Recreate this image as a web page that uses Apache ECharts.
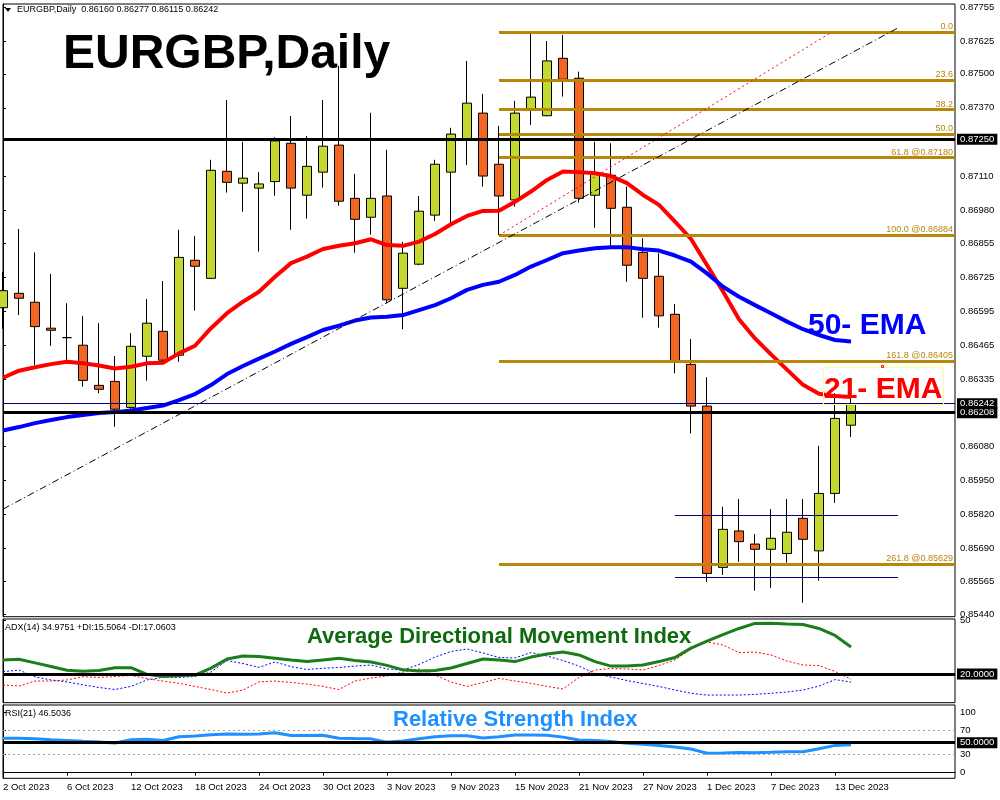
<!DOCTYPE html>
<html><head><meta charset="utf-8">
<script src="https://cdn.jsdelivr.net/npm/echarts@6/dist/echarts.min.js"></script>
<style>html,body{margin:0;padding:0;background:#fff}#c{width:1000px;height:800px}</style>
</head><body><div id="c"></div>
<script>
const dates = ['2 Oct 2023','3 Oct 2023','4 Oct 2023','5 Oct 2023','6 Oct 2023','9 Oct 2023','10 Oct 2023','11 Oct 2023','12 Oct 2023','13 Oct 2023','16 Oct 2023','17 Oct 2023','18 Oct 2023','19 Oct 2023','20 Oct 2023','23 Oct 2023','24 Oct 2023','25 Oct 2023','26 Oct 2023','27 Oct 2023','30 Oct 2023','31 Oct 2023',
'1 Nov 2023','2 Nov 2023','3 Nov 2023','6 Nov 2023','7 Nov 2023','8 Nov 2023','9 Nov 2023','10 Nov 2023','13 Nov 2023','14 Nov 2023','15 Nov 2023','16 Nov 2023','17 Nov 2023','20 Nov 2023','21 Nov 2023','22 Nov 2023','23 Nov 2023','24 Nov 2023','27 Nov 2023','28 Nov 2023','29 Nov 2023','30 Nov 2023',
'1 Dec 2023','4 Dec 2023','5 Dec 2023','6 Dec 2023','7 Dec 2023','8 Dec 2023','11 Dec 2023','12 Dec 2023','13 Dec 2023','14 Dec 2023'];
const dateTicks = [0,4,8,12,16,20,24,28,32,36,40,44,48,52];

const opens  = [0.86608,0.86663,0.86629,0.86530,0.86494,0.86465,0.86312,0.86327,0.86228,0.86423,0.86518,0.86427,0.86789,0.86720,0.87128,0.87083,0.87064,0.87089,0.87235,0.87037,0.87125,0.87228,0.87025,0.86953,0.87034,0.86682,0.86774,0.86961,0.87125,0.87250,0.87350,0.87155,0.87019,0.87365,0.87340,0.87559,0.87483,0.87037,0.87113,0.86991,0.86819,0.86728,0.86583,0.86392,0.86233,0.85618,0.85757,0.85707,0.85687,0.85671,0.85805,0.85681,0.85900,0.86160];
const highs  = [0.86745,0.86908,0.86819,0.86737,0.86625,0.86577,0.86549,0.86424,0.86511,0.86641,0.86710,0.86905,0.86882,0.87172,0.87400,0.87241,0.87125,0.87258,0.87339,0.87263,0.87400,0.87530,0.87118,0.87351,0.87210,0.86859,0.87034,0.87172,0.87294,0.87549,0.87423,0.87301,0.87397,0.87652,0.87625,0.87648,0.87508,0.87241,0.87235,0.87070,0.86873,0.86816,0.86622,0.86489,0.86343,0.85849,0.85879,0.85745,0.85840,0.85879,0.85879,0.86081,0.86282,0.86277];
const lows   = [0.86527,0.86580,0.86390,0.86463,0.86409,0.86307,0.86282,0.86154,0.86220,0.86330,0.86401,0.86402,0.86597,0.86718,0.87047,0.86974,0.86822,0.87035,0.86905,0.86948,0.87066,0.86997,0.86818,0.86887,0.86625,0.86526,0.86770,0.86939,0.86927,0.87152,0.87070,0.86885,0.86993,0.87305,0.87338,0.87413,0.87009,0.86913,0.86841,0.86707,0.86570,0.86532,0.86358,0.86129,0.85563,0.85589,0.85639,0.85529,0.85540,0.85636,0.85483,0.85567,0.85864,0.86115];
const closes = [0.86673,0.86644,0.86536,0.86522,0.86494,0.86331,0.86297,0.86221,0.86461,0.86549,0.86408,0.86800,0.86766,0.87132,0.87086,0.87102,0.87080,0.87244,0.87064,0.87147,0.87224,0.87014,0.86945,0.87025,0.86638,0.86816,0.86976,0.87155,0.87270,0.87388,0.87110,0.87034,0.87350,0.87411,0.87549,0.87479,0.87025,0.87117,0.86987,0.86770,0.86720,0.86577,0.86405,0.86233,0.85595,0.85763,0.85716,0.85687,0.85729,0.85752,0.85725,0.85900,0.86186,0.86242];

const ema21 = [0.86341,0.86368,0.86381,0.86393,0.86402,0.86396,0.86388,0.86376,0.86383,0.86396,0.86398,0.86434,0.86463,0.86530,0.86587,0.86631,0.86669,0.86726,0.86778,0.86803,0.86832,0.86844,0.86854,0.86869,0.86847,0.86844,0.86860,0.86889,0.86926,0.86958,0.86977,0.86978,0.87012,0.87051,0.87095,0.87127,0.87125,0.87121,0.87110,0.87083,0.87038,0.87000,0.86936,0.86870,0.86771,0.86670,0.86564,0.86491,0.86430,0.86372,0.86314,0.86280,0.86271,0.86268];
const ema50 = [0.86140,0.86153,0.86168,0.86180,0.86191,0.86199,0.86207,0.86210,0.86216,0.86226,0.86235,0.86256,0.86279,0.86313,0.86355,0.86386,0.86414,0.86441,0.86470,0.86496,0.86523,0.86540,0.86559,0.86571,0.86574,0.86580,0.86599,0.86618,0.86644,0.86676,0.86695,0.86707,0.86733,0.86765,0.86790,0.86816,0.86826,0.86835,0.86839,0.86839,0.86831,0.86826,0.86807,0.86784,0.86739,0.86688,0.86650,0.86618,0.86587,0.86555,0.86526,0.86504,0.86485,0.86479];

const adx     = [27.8,28.2,26.2,24.2,22.1,21.6,21.9,23.5,23.5,19.8,18.6,19.2,19.4,23.3,28.3,30.0,29.7,28.8,27.8,26.9,27.8,28.7,27.5,26.7,24.8,22.3,21.7,21.9,23.3,25.8,28.3,27.8,26.9,29.4,31.1,32.2,30.6,26.9,24.4,24.4,25.0,26.9,29.2,34.4,38.3,41.9,45.3,48.1,48.2,47.8,47.5,45.3,41.4,35.0];
const plusDI  = [21.3,22.2,18.4,16.7,15.6,14.0,12.5,11.4,13.1,16.7,18.2,18.1,18.6,21.1,27.5,25.8,23.7,26.7,24.1,22.5,23.2,23.6,24.4,25.0,22.8,22.2,25.3,29.4,32.5,33.9,31.7,29.2,28.9,31.9,30.0,27.5,24.4,20.3,18.3,16.4,14.7,13.1,11.1,9.3,8.3,8.3,8.3,8.7,9.3,10.0,11.1,13.3,16.9,15.5];
const minusDI = [13.9,13.3,16.1,16.1,16.7,18.5,18.1,18.6,19.2,17.5,16.1,14.8,13.1,11.4,9.4,11.1,15.6,16.1,15.3,14.4,13.1,11.4,16.1,17.8,18.9,21.1,22.8,19.4,15.6,13.1,15.3,17.6,16.1,14.8,13.1,11.7,18.1,22.2,23.1,22.8,22.2,24.7,27.8,33.9,37.8,36.1,31.9,32.2,30.6,27.2,25.0,24.7,21.4,17.1];
const rsi     = [57.3,57.3,56.5,55.0,53.8,52.3,51.0,49.5,54.8,55.7,53.8,60.0,61.0,63.3,64.4,64.1,64.4,66.5,62.0,62.0,62.4,57.5,56.9,56.4,51.0,52.8,56.4,59.8,61.7,61.5,58.0,60.0,62.8,62.8,62.5,59.3,54.4,53.7,52.0,49.2,47.4,45.5,43.0,39.5,32.5,33.0,33.8,33.3,34.0,35.0,35.0,40.0,45.5,46.5];

const priceTicks  = [0.87755,0.87625,0.87500,0.87370,0.87250,0.87110,0.86980,0.86855,0.86725,0.86595,0.86465,0.86335,0.86080,0.85950,0.85820,0.85690,0.85565,0.85440];
const priceLabels = [0.87755,0.87625,0.87500,0.87370,0.87110,0.86980,0.86855,0.86725,0.86595,0.86465,0.86335,0.86080,0.85950,0.85820,0.85690,0.85565,0.85440];
const levelLines = [0.87250, 0.86208];
const bidPrice = 0.86242;
const fibNames  = ['0.0','23.6','38.2','50.0','61.8 @0.87180','100.0 @0.86884','161.8 @0.86405','261.8 @0.85629'];
const fibPrices = [0.87659,0.87476,0.87363,0.87271,0.87180,0.86884,0.86405,0.85629];
const fibStartIdx = 31;
const trendBlack = [[0,0.85840],[55.94,0.87675]];
const trendRed   = [[31,0.86884],[51.8,0.87659]];
const rangeLines = [0.85817, 0.85581];
const rangeSpan  = [42, 55.94];
const adxLevel = 20, rsiLevel = 50, rsiBand = [70, 30];
const adxTicks = [50], rsiTicks = [100, 70, 30, 0];

const X_MAX = 59.5;
const FONT = 'Liberation Sans, Arial, sans-serif';
const boxLabel = (txt) => ({show:true, position:'end', formatter:txt, color:'#fff', backgroundColor:'#000',
  padding:[1,3,0,3], fontSize:9.5, distance:2, fontFamily:FONT});

const chart = echarts.init(document.getElementById('c'), null, {renderer:'canvas'});
const xBase = (gi, showLabels) => ({
  type:'value', gridIndex:gi, min:0, max:X_MAX,
  splitLine:{show:false},
  axisLine:{show:showLabels, lineStyle:{color:'#000'}},
  axisTick:showLabels ? {show:true, customValues:dateTicks, length:3, lineStyle:{color:'#000'}} : {show:false},
  axisLabel:showLabels ? {show:true, customValues:dateTicks, formatter:v => dates[Math.round(v)] || '',
     align:'left', fontSize:9.5, color:'#000', margin:4, fontFamily:FONT} : {show:false}
});
const yRight = (gi, min, max, ticks, labels, fmt) => ({
  type:'value', gridIndex:gi, position:'right', min, max, scale:true,
  splitLine:{show:false},
  axisLine:{show:true, lineStyle:{color:'#000'}},
  axisTick:{show:true, customValues:ticks, length:3, lineStyle:{color:'#000'}},
  axisLabel:{show:true, customValues:labels, formatter:fmt, fontSize:9.5, color:'#000', margin:5, fontFamily:FONT}
});

const fibMarks = fibPrices.map((p,k) => [
  {coord:[fibStartIdx, p], label:{show:true, position:'insideEndTop', formatter:fibNames[k], color:'#B8860B', fontSize:9, distance:[2,1], fontFamily:FONT}},
  {coord:[X_MAX, p]}
]);
const hMark = (p, color, width, txt) => [
  {coord:[0, p], lineStyle:{color, width, type:'solid'}, label:boxLabel(txt)},
  {coord:[X_MAX, p]}
];

const option = {
  animation:false,
  backgroundColor:'#fff',
  textStyle:{fontFamily:FONT},
  grid:[
    {left:3, right:45, top:4, height:612.7, show:true, borderColor:'#000', borderWidth:1, backgroundColor:'transparent'},
    {left:3, right:45, top:619, height:83.7, show:true, borderColor:'#000', borderWidth:1},
    {left:3, right:45, top:705, height:73.3, show:true, borderColor:'#000', borderWidth:1}
  ],
  xAxis:[xBase(0,false), xBase(1,false), xBase(2,true)],
  yAxis:[
    yRight(0, 0.85430, 0.87766, priceTicks, priceLabels, v => v.toFixed(5)),
    yRight(1, 4.06, 50.56, adxTicks, adxTicks, v => String(v)),
    yRight(2, -9.3, 112.8, rsiTicks, rsiTicks, v => String(v))
  ],
  series:[
    {type:'line', xAxisIndex:0, yAxisIndex:0, data:[], silent:true, z:1,
     markLine:{silent:true, symbol:['none','none'], animation:false, data:[
       ...fibMarks,
       [{coord:trendBlack[0], lineStyle:{color:'#000', width:1, type:[7,3,1,3]}}, {coord:trendBlack[1]}],
       [{coord:trendRed[0], lineStyle:{color:'#FF0000', width:1, type:[2,3]}}, {coord:trendRed[1]}],
       ...rangeLines.map(p => [{coord:[rangeSpan[0], p], lineStyle:{color:'#000080', width:1, type:'solid'}}, {coord:[rangeSpan[1], p]}])
     ], lineStyle:{color:'#B8860B', width:3, type:'solid'}, label:{show:false}}
    },
    {type:'line', xAxisIndex:0, yAxisIndex:0, data:[], silent:true, z:2,
     markLine:{silent:true, symbol:['none','none'], animation:false, data:[
       hMark(levelLines[0], '#000', 3, levelLines[0].toFixed(5)),
       hMark(levelLines[1], '#000', 3, levelLines[1].toFixed(5)),
       hMark(bidPrice, '#000080', 1, bidPrice.toFixed(5))
     ]}
    },
    {type:'candlestick', xAxisIndex:0, yAxisIndex:0, z:3, barWidth:9, clip:true,
     data: opens.map((o,i) => [i, o, closes[i], lows[i], highs[i]]),
     itemStyle:{color:'#C3D932', color0:'#F26522', borderColor:'#000', borderColor0:'#000', borderColorDoji:'#000', borderWidth:1}
    },
    {type:'line', name:'EMA21', xAxisIndex:0, yAxisIndex:0, z:4, symbol:'none',
     data: ema21.map((v,i) => [i,v]), lineStyle:{color:'#FF0000', width:4}},
    {type:'line', name:'EMA50', xAxisIndex:0, yAxisIndex:0, z:4, symbol:'none',
     data: ema50.map((v,i) => [i,v]), lineStyle:{color:'#0000FF', width:4}},
    {type:'line', xAxisIndex:1, yAxisIndex:1, symbol:'none', z:2,
     data: plusDI.map((v,i)=>[i,v]), lineStyle:{color:'#0000FF', width:1, type:[2,2]}},
    {type:'line', xAxisIndex:1, yAxisIndex:1, symbol:'none', z:2,
     data: minusDI.map((v,i)=>[i,v]), lineStyle:{color:'#FF0000', width:1, type:[2,2]}},
    {type:'line', xAxisIndex:1, yAxisIndex:1, symbol:'none', z:3,
     data: adx.map((v,i)=>[i,v]), lineStyle:{color:'#1A7F1A', width:3},
     markLine:{silent:true, symbol:['none','none'], animation:false, data:[
       {yAxis:adxLevel, lineStyle:{color:'#000', width:3, type:'solid'}, label:boxLabel('20.0000')}
     ]}
    },
    {type:'line', xAxisIndex:2, yAxisIndex:2, symbol:'none', z:3,
     data: rsi.map((v,i)=>[i,v]), lineStyle:{color:'#1E90FF', width:3},
     markLine:{silent:true, symbol:['none','none'], animation:false, data:[
       {yAxis:rsiBand[0], lineStyle:{color:'#A0A0A0', width:1, type:[2,3]}, label:{show:false}},
       {yAxis:rsiBand[1], lineStyle:{color:'#A0A0A0', width:1, type:[2,3]}, label:{show:false}},
       {yAxis:rsiLevel, lineStyle:{color:'#000', width:3, type:'solid'}, label:boxLabel('50.0000')}
     ]}
    }
  ],
  graphic:[
    {type:'polygon', shape:{points:[[5,8],[11,8],[8,12]]}, style:{fill:'#000'}, z:100},
    {type:'text', x:17, y:10, z:100, style:{text:'EURGBP,Daily  0.86160 0.86277 0.86115 0.86242', font:'9px '+FONT, fill:'#000', verticalAlign:'middle'}},
    {type:'text', x:63, y:55, z:100, style:{text:'EURGBP,Daily', font:'bold 48px '+FONT, fill:'#000', verticalAlign:'middle'}},
    {type:'text', x:808, y:326, z:100, style:{text:'50- EMA', font:'bold 30px '+FONT, fill:'#0000FF', verticalAlign:'middle'}},
    {type:'rect', shape:{x:823.5, y:367.5, width:120, height:37}, style:{fill:'none', stroke:'#FFFF99', lineWidth:1}, z:100},
    {type:'rect', shape:{x:881.5, y:365.5, width:2, height:2}, style:{fill:'none', stroke:'#FF0000', lineWidth:1}, z:100},
    {type:'text', x:824, y:390, z:100, style:{text:'21- EMA', font:'bold 30px '+FONT, fill:'#FF0000', verticalAlign:'middle'}},
    {type:'text', x:5, y:628, z:100, style:{text:'ADX(14) 34.9751 +DI:15.5064 -DI:17.0603', font:'9px '+FONT, fill:'#000', verticalAlign:'middle'}},
    {type:'text', x:307, y:637, z:100, style:{text:'Average Directional Movement Index', font:'bold 22px '+FONT, fill:'#0E6A0E', verticalAlign:'middle'}},
    {type:'text', x:5, y:714, z:100, style:{text:'RSI(21) 46.5036', font:'9px '+FONT, fill:'#000', verticalAlign:'middle'}},
    {type:'text', x:393, y:720, z:100, style:{text:'Relative Strength Index', font:'bold 22px '+FONT, fill:'#1E90FF', verticalAlign:'middle'}}
  ]
};
chart.setOption(option);
</script>
</body></html>
